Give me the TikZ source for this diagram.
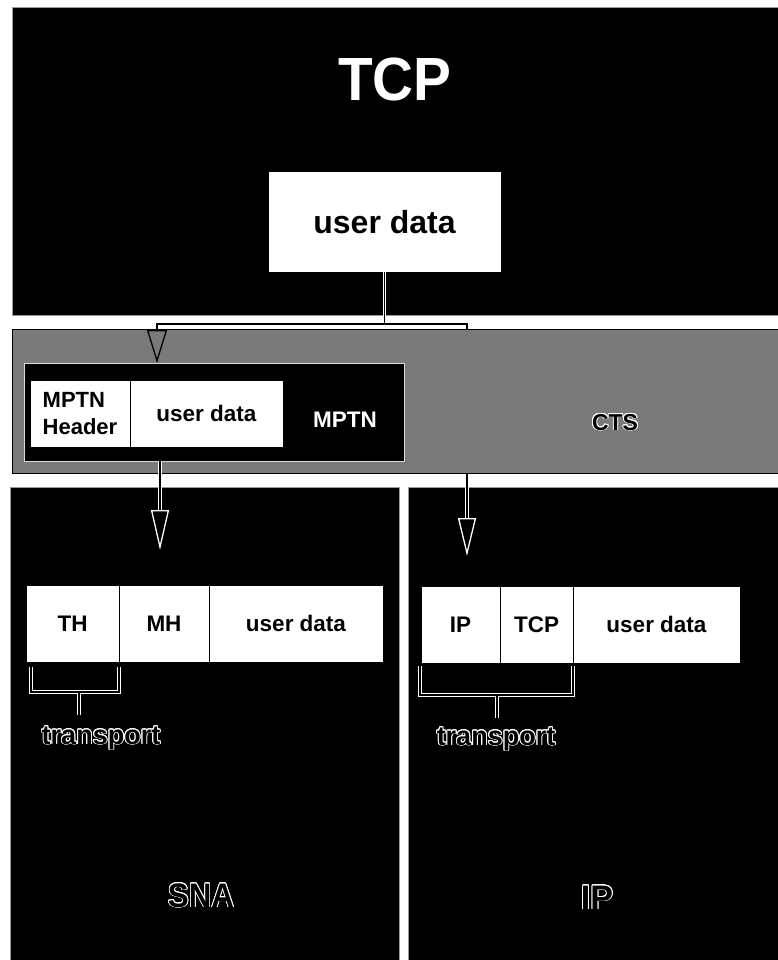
\documentclass[tikz,border=0pt]{standalone}
\usepackage{fontspec}
\setmainfont{Liberation Sans}
\usepackage{contour}
\contourlength{0.9pt}
\usetikzlibrary{arrows.meta}
\definecolor{ctsgray}{gray}{0.48}
\definecolor{rimgray}{gray}{0.6}
\newcommand\fsz[1]{\fontsize{#1}{#1}\selectfont\bfseries}
\begin{document}
\begin{tikzpicture}[x=1pt, y=-1pt,
  every node/.style={inner sep=0pt, outer sep=0pt},
  darkpanel/.style={rectangle, anchor=north west, fill=black, draw=rimgray, line width=1pt},
  greypanel/.style={rectangle, anchor=north west, fill=ctsgray, draw=black, line width=1pt},
  cell/.style={rectangle, anchor=north west, fill=white, draw=black, line width=1pt, font=\fsz{22.5}, align=center},
  hollow/.style={anchor=base, text=black},
  link/.style={draw=white, double=black, line width=1pt, double distance=1.5pt},
  tipW/.style={draw=white, line width=1.3pt},
  tipB/.style={draw=black, line width=1.3pt},
]
\useasboundingbox (0,0) rectangle (778,960);

% TCP layer
\node[darkpanel, minimum width=767pt, minimum height=307pt] (tcp) at (12,8) {};
\node[text=white, font=\fsz{61}] (title) at (395,80) {\scalebox{0.93}[1]{TCP}};
\node[cell, font=\fsz{32}, minimum width=233pt, minimum height=100pt] (ud) at (268,172) {user data};

% SNA and IP layers
\node[darkpanel, minimum width=389pt, minimum height=480pt] (sna) at (10,487) {};
\node[darkpanel, minimum width=372pt, minimum height=480pt] (ip) at (408,487) {};

% distribution of the user data
\coordinate (lvl) at (0,324);
\coordinate (split) at (ud.south |- lvl);
\coordinate (splitL) at (157,324);
\coordinate (splitR) at (467,324);
\coordinate (mbase) at (157,330);
\coordinate (ibase) at (467,518);
\coordinate (itip) at (467,556);
\draw[link] (ud.south) -- (split) (mbase) -- (splitL) -- (splitR) -- (ibase);
\draw[tipW, -{Triangle[open, length=38pt, width=18pt]}] (ibase) -- (itip);

% CTS layer with the MPTN frame
\node[greypanel, minimum width=767pt, minimum height=144pt] (cts) at (12,329) {};
\node[hollow, font=\fsz{23}] (ctslbl) at (615,430) {\contour{white}{CTS}};
\node[darkpanel, draw=white!85!black, minimum width=380pt, minimum height=98pt] (mptn) at (24,363) {};
\node[cell, font={\fontsize{22}{27}\selectfont\bfseries}, align=left, minimum width=100pt, minimum height=67pt] (hdr) at (30,380) {MPTN\\Header};
\node[cell, minimum width=153pt, minimum height=67pt] (mud) at (hdr.north east) {user data};
\node[hollow, text=white, font=\fsz{22.5}] (mptnlbl) at (345,427) {MPTN};
\draw[tipB, -{Triangle[open, length=33pt, width=20pt]}] (mbase) -- (mptn.north -| mbase);

% MPTN down to SNA
\coordinate (sbase) at (160,510);
\coordinate (stip) at (160,550);
\draw[link] (mptn.south -| sbase) -- (sbase);
\draw[tipW, -{Triangle[open, length=40pt, width=18pt]}] (sbase) -- (stip);

% SNA packet
\node[cell, minimum width=93pt, minimum height=77pt] (th) at (26,585) {TH};
\node[cell, minimum width=90pt, minimum height=77pt] (mh) at (th.north east) {MH};
\node[cell, minimum width=174pt, minimum height=77pt] (sud) at (mh.north east) {user data};

% IP packet
\node[cell, minimum width=79pt, minimum height=77pt] (ipc) at (421,586) {IP};
\node[cell, minimum width=73pt, minimum height=77pt] (tcpc) at (ipc.north east) {TCP};
\node[cell, minimum width=167pt, minimum height=77pt] (iud) at (tcpc.north east) {user data};

% transport brackets
\coordinate (sbl) at ([xshift=5pt, yshift=-5pt]th.south west);
\coordinate (sbr) at ([yshift=-5pt]th.south east);
\coordinate (sbm) at (79,692);
\coordinate (sstem) at (79,715);
\draw[link] (sbl) |- (sbm) -| (sbr) (sbm) -- (sstem);
\coordinate (ibl) at ([xshift=-1pt, yshift=-3pt]ipc.south west);
\coordinate (ibr) at ([yshift=-3pt]tcpc.south east);
\coordinate (ibm) at (497,695);
\coordinate (istem) at (497,718);
\draw[link] (ibl) |- (ibm) -| (ibr) (ibm) -- (istem);

\node[hollow, font=\fsz{27}] (trS) at (101,744) {\contour{white}{transport}};
\node[hollow, font=\fsz{27}] (trI) at (496,745) {\contour{white}{transport}};
\node[hollow, font=\fsz{34}] (snalbl) at (201,907) {\scalebox{0.92}[1]{\contour{white}{SNA}}};
\node[hollow, font=\fsz{34}] (iplbl) at (597,909) {\contour{white}{IP}};
\end{tikzpicture}
\end{document}
